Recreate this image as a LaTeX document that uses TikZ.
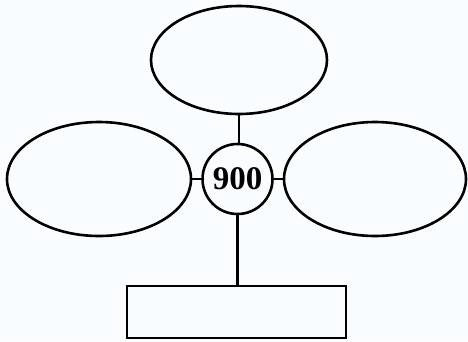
\documentclass[tikz,border=0pt]{standalone}
\usepackage{fontspec}
\setmainfont{Liberation Serif}
\usepackage{tikz}
\usetikzlibrary{shapes.geometric, positioning}

\begin{document}
\begin{tikzpicture}[x=1pt, y=-1pt, line width=2.6pt,
  bubble/.style={draw, ellipse, inner sep=0pt, minimum width=176, minimum height=108},
  hub/.style={draw, circle, inner sep=0pt, minimum size=70, font=\bfseries\fontsize{33}{33}\selectfont},
  answerbox/.style={draw, rectangle, inner sep=0pt, minimum width=219, minimum height=52}]
\fill[white!98!cyan] (0,0) rectangle (468,341);
\useasboundingbox (0,0) rectangle (468,341);
\node[hub] (hub) at (237.5,179) {900};
\node[bubble] (top) at (239,60) {};
\node[bubble, minimum width=184, minimum height=114] (left) at (99,179) {};
\node[bubble, minimum width=182, minimum height=114] (right) at (375,179) {};
\node[answerbox] (box) at (236.5,312) {};
\draw (top.south) -- (top.south |- hub.north);
\draw (left) -- (hub);
\draw (hub) -- (right);
\draw (hub.south) -- (hub.south |- box.north);
\end{tikzpicture}
\end{document}
